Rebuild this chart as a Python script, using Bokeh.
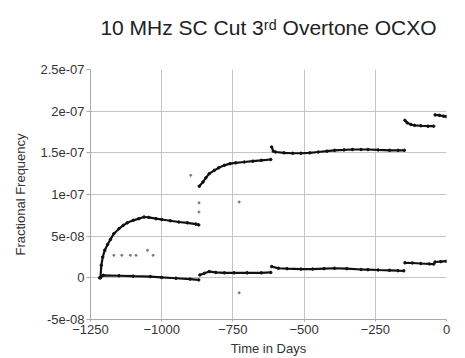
from bokeh.plotting import figure
from bokeh.models import FixedTicker, CustomJSTickFormatter, Range1d, ColumnDataSource, Title
from bokeh.embed import file_html
from bokeh.resources import INLINE

# ---- data ----
upper_seg = [1]*21 + [2]*13 + [3]*18 + [4]*7 + [5]*4
upper_days = [-1215, -1212, -1207, -1200, -1190, -1180, -1168, -1150, -1135, -1121, -1100, -1080, -1062, -1045, -1020, -1000, -970, -940, -910, -880, -870,
              -868, -855, -845, -833, -815, -800, -780, -760, -740, -710, -680, -650, -617,
              -614, -608, -600, -570, -540, -511, -480, -450, -420, -393, -360, -330, -300, -276, -240, -200, -170, -148,
              -146, -138, -125, -112, -90, -65, -45,
              -40, -25, -10, 0]
upper_vals = [0.0, 1.5e-8, 2.5e-8, 3.3e-8, 4.0e-8, 4.6e-8, 5.3e-8, 5.9e-8, 6.3e-8, 6.6e-8, 6.9e-8, 7.1e-8, 7.3e-8, 7.25e-8, 7.1e-8, 7.0e-8, 6.85e-8, 6.7e-8, 6.6e-8, 6.45e-8, 6.35e-8,
              1.10e-7, 1.15e-7, 1.20e-7, 1.25e-7, 1.29e-7, 1.32e-7, 1.35e-7, 1.37e-7, 1.38e-7, 1.39e-7, 1.40e-7, 1.41e-7, 1.42e-7,
              1.57e-7, 1.52e-7, 1.51e-7, 1.50e-7, 1.495e-7, 1.495e-7, 1.50e-7, 1.51e-7, 1.52e-7, 1.53e-7, 1.535e-7, 1.54e-7, 1.54e-7, 1.54e-7, 1.535e-7, 1.53e-7, 1.53e-7, 1.53e-7,
              1.89e-7, 1.86e-7, 1.84e-7, 1.83e-7, 1.825e-7, 1.82e-7, 1.82e-7,
              1.955e-7, 1.95e-7, 1.94e-7, 1.935e-7]

lower_seg = [1]*9 + [2]*9 + [3]*14 + [4]*5 + [5]*3
lower_days = [-1218, -1205, -1150, -1100, -1040, -1000, -950, -900, -870,
              -866, -850, -833, -810, -780, -746, -700, -650, -617,
              -614, -590, -560, -511, -470, -430, -393, -350, -300, -276, -240, -200, -170, -150,
              -146, -120, -90, -60, -45,
              -40, -20, 0]
lower_vals = [0.0, 3.0e-9, 2.5e-9, 2.0e-9, 1.5e-9, 0.5e-9, -0.5e-9, -1.5e-9, -2.5e-9,
              3.5e-9, 5.5e-9, 7.5e-9, 6.5e-9, 6.0e-9, 6.0e-9, 6.0e-9, 6.0e-9, 6.5e-9,
              1.35e-8, 1.15e-8, 1.1e-8, 1.05e-8, 1.05e-8, 1.1e-8, 1.15e-8, 1.1e-8, 1.0e-8, 9.8e-9, 9.4e-9, 9.0e-9, 8.6e-9, 8.4e-9,
              1.8e-8, 1.78e-8, 1.72e-8, 1.67e-8, 1.65e-8,
              1.9e-8, 1.95e-8, 2.0e-8]

stray_days = [-1168, -1140, -1110, -1090, -1050, -1030, -898, -869, -869, -728, -728]
stray_vals = [2.7e-8, 2.7e-8, 2.7e-8, 2.7e-8, 3.3e-8, 2.7e-8, 1.23e-7, 9.0e-8, 7.9e-8, 9.1e-8, -1.8e-8]

y_ticks = [-5e-8, 0.0, 5e-8, 1e-7, 1.5e-7, 2e-7, 2.5e-7]
x_ticks = [-1250, -1000, -750, -500, -250, 0]

title_text = "10 MHz SC Cut 3\u02b3\u1d48 Overtone OCXO"

FONT = "Liberation Sans"
TXT = "#333333"
GRID = "#c4c4c4"

p = figure(width=465, height=358, output_backend="svg", toolbar_location=None,
           x_range=Range1d(-1250, 0), y_range=Range1d(-5e-8, 2.5e-7),
           min_border_left=90, min_border_right=19, min_border_top=69, min_border_bottom=38)
p.outline_line_color = None
p.background_fill_color = "white"

# spacer between the frame and the title
p.add_layout(Title(text=" ", text_font_size="1px", standoff=28), "above")

p.title.text = title_text
p.title.align = "center"
p.title.vertical_align = "bottom"
p.title.text_font = FONT
p.title.text_font_size = "21px"
p.title.text_font_style = "normal"
p.title.text_color = "#222222"
p.title.standoff = 0

for ax in (p.xaxis[0], p.yaxis[0]):
    ax.axis_line_color = "#a8a8a8"
    ax.major_tick_line_color = "#a8a8a8"
    ax.minor_tick_line_color = None
    ax.major_tick_in = 0
    ax.major_label_text_font = FONT
    ax.major_label_text_font_size = "13px"
    ax.major_label_text_color = TXT
    ax.axis_label_text_font = FONT
    ax.axis_label_text_font_size = "13px"
    ax.axis_label_text_font_style = "normal"
    ax.axis_label_text_color = TXT

p.xaxis.ticker = FixedTicker(ticks=x_ticks)
p.yaxis.ticker = FixedTicker(ticks=y_ticks)
p.xaxis.major_tick_out = 2
p.yaxis.major_tick_out = 4
p.xaxis.major_label_standoff = 3
p.yaxis.major_label_standoff = 2
p.xaxis.axis_label = "Time in Days"
p.yaxis.axis_label = "Fractional Frequency"
p.xaxis.axis_label_standoff = 4
p.yaxis.axis_label_standoff = 9
p.yaxis.formatter = CustomJSTickFormatter(code="""
    if (Math.abs(tick) < 1e-20) { return "0"; }
    const s = Number(tick.toPrecision(6)).toExponential();
    const parts = s.split("e");
    const e = parseInt(parts[1]);
    const a = Math.abs(e);
    return parts[0] + "e" + (e < 0 ? "-" : "+") + (a < 10 ? "0" : "") + a;
""")

p.xgrid.grid_line_color = GRID
p.ygrid.grid_line_color = GRID
p.xgrid.ticker = FixedTicker(ticks=x_ticks)
p.ygrid.ticker = FixedTicker(ticks=y_ticks)

for seg_ids, days, vals in ((upper_seg, upper_days, upper_vals), (lower_seg, lower_days, lower_vals)):
    for s in sorted(set(seg_ids)):
        xs = [d for d, g in zip(days, seg_ids) if g == s]
        ys = [v for v, g in zip(vals, seg_ids) if g == s]
        src = ColumnDataSource(dict(x=xs, y=ys))
        p.line("x", "y", source=src, line_color="#111111", line_width=2.2)
        p.scatter("x", "y", source=src, size=2.5, color="#111111")

p.scatter(stray_days, stray_vals, size=2, color="#777777")

open("out.html", "w").write(file_html(p, INLINE))
